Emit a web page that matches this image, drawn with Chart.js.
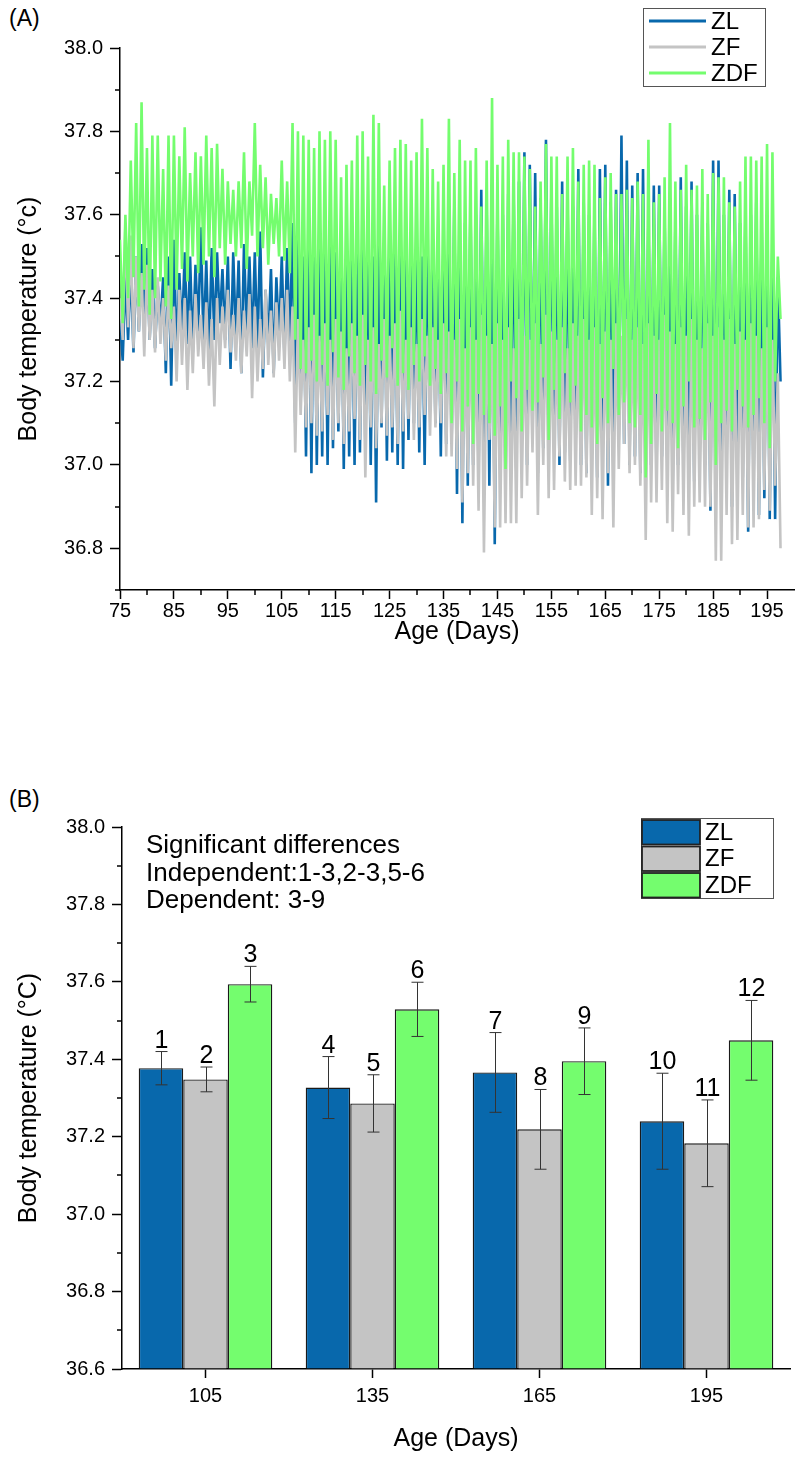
<!DOCTYPE html>
<html>
<head>
<meta charset="utf-8">
<script src="https://cdn.jsdelivr.net/npm/chart.js@4"></script>
<style>
body{margin:0;background:#fff;width:795px;height:1461px;position:relative;overflow:hidden;font-family:"Liberation Sans",Arial,sans-serif}
canvas{position:absolute;left:0}
#cA{top:0}
#cB{top:780px}
.tag{position:absolute;left:9px;font-size:23px;color:#000}
</style>
</head>
<body>
<div class="tag" style="top:5px">(A)</div>
<div class="tag" style="top:786px">(B)</div>
<canvas id="cA" width="795" height="680"></canvas>
<canvas id="cB" width="795" height="681"></canvas>
<script>
// ---------------- DATA (A) : daily high / low, days 75..197 ----------------

const firstDay = 75

const zlHigh = [
37.35,37.45,37.48,37.50,37.53,37.52,37.47,37.43,37.45,37.50,37.54,37.46,37.51,37.50,37.48,37.57,37.49,37.52,37.51,37.47,37.50,37.51,37.49,37.53,37.50,37.51,37.56,37.42,37.47,37.45,37.50,
37.52,37.58,37.55,37.50,37.56,37.59,37.52,37.55,37.57,37.51,37.53,37.54,37.49,37.56,37.52,37.58,37.50,37.55,37.53,37.57,37.51,37.60,37.54,37.52,37.56,37.50,37.55,37.53,37.48,37.55,
37.55,37.62,37.60,37.58,37.63,37.60,37.66,37.62,37.66,37.63,37.60,37.65,37.66,37.68,37.75,37.72,37.70,37.64,37.78,37.66,37.62,37.68,37.64,37.62,37.71,37.63,37.60,37.62,37.71,37.72,37.63,37.66,
37.79,37.73,37.67,37.70,37.71,37.60,37.67,37.67,37.60,37.64,37.58,37.69,37.62,37.68,37.60,37.63,37.58,37.73,37.73,37.60,37.66,37.65,37.58,37.62,37.60,37.63,37.58,37.60,37.55,37.45]
const zlLow = [
37.25,37.30,37.27,37.32,37.35,37.30,37.28,37.33,37.22,37.19,37.26,37.31,37.29,37.27,37.32,37.28,37.25,37.30,37.34,37.30,37.23,37.30,37.22,37.31,37.28,37.27,37.21,37.29,37.22,37.30,37.26,
37.28,37.10,37.15,37.02,36.98,37.00,37.02,37.00,37.04,37.08,36.99,37.02,37.00,37.03,37.05,37.00,36.91,37.09,37.01,37.03,37.00,36.99,37.06,37.10,37.03,37.00,37.17,37.10,37.02,37.05,
37.05,36.93,36.86,36.95,37.00,36.97,37.02,36.95,36.81,37.00,36.95,37.02,36.98,37.05,37.00,37.08,36.98,37.04,37.01,37.06,37.00,37.03,37.01,37.04,37.00,36.98,37.04,36.97,37.01,36.95,37.03,37.06,
37.05,37.00,37.02,36.98,37.03,37.00,36.97,37.02,37.01,36.95,37.00,36.98,37.03,36.96,37.01,37.00,36.89,36.98,37.02,37.00,36.90,37.00,36.97,36.84,36.95,36.88,36.92,36.87,36.87,37.20]

const zfHigh = [
37.40,37.58,37.55,37.50,37.46,37.48,37.42,37.45,37.40,37.43,37.38,37.42,37.40,37.37,37.41,37.36,37.39,37.35,37.40,37.38,37.42,37.36,37.40,37.37,37.41,37.38,37.35,37.42,37.37,37.39,37.40,
37.42,37.38,37.35,37.30,37.33,37.36,37.31,37.34,37.30,37.35,37.32,37.28,37.34,37.31,37.36,37.30,37.33,37.29,37.35,37.31,37.34,37.37,37.30,37.33,37.29,37.35,37.31,37.33,37.30,37.34,
37.32,37.30,37.35,37.28,37.33,37.30,37.36,37.31,37.29,37.34,37.30,37.33,37.28,37.35,37.31,37.30,37.34,37.29,37.36,37.32,37.30,37.33,37.28,37.34,37.31,37.35,37.30,37.33,37.29,37.32,37.30,37.34,
37.31,37.35,37.30,37.33,37.29,37.34,37.31,37.30,37.36,37.32,37.29,37.33,37.31,37.35,37.30,37.28,37.34,37.31,37.33,37.30,37.35,37.29,37.32,37.30,37.34,37.31,37.28,37.33,37.30,37.22]
const zfLow = [
37.30,37.33,37.28,37.32,37.26,37.30,37.27,37.29,37.25,37.28,37.20,37.24,37.18,37.22,37.26,37.23,37.19,37.14,37.24,37.28,37.27,37.25,37.22,37.26,37.16,37.20,37.23,37.24,37.21,37.25,37.23,
37.20,37.03,37.12,37.09,37.10,37.07,37.08,37.12,37.06,37.10,37.05,37.08,37.11,37.06,36.97,37.09,37.04,37.10,37.07,37.09,37.05,37.08,37.11,37.06,37.09,37.12,37.07,37.09,37.10,37.02,
37.02,36.99,36.91,36.98,36.95,36.89,36.79,37.06,36.85,36.85,36.86,36.86,36.86,36.92,36.95,37.03,36.88,37.00,36.92,36.94,37.02,36.96,36.94,36.95,36.95,36.97,36.88,36.92,36.87,36.98,36.85,36.99,
37.05,36.98,37.00,36.95,36.82,36.91,36.91,36.94,36.86,36.84,36.93,36.88,36.83,36.90,36.91,36.90,36.90,36.77,36.77,36.88,36.81,36.82,36.88,36.85,36.85,36.87,36.94,36.89,36.95,36.80]

const zdfHigh = [
37.54,37.60,37.73,37.82,37.87,37.76,37.79,37.79,37.71,37.79,37.79,37.74,37.81,37.70,37.75,37.74,37.79,37.76,37.77,37.71,37.68,37.66,37.68,37.75,37.68,37.82,37.72,37.69,37.65,37.64,37.73,
37.68,37.82,37.80,37.79,37.78,37.76,37.80,37.78,37.80,37.78,37.69,37.72,37.73,37.79,37.80,37.74,37.84,37.82,37.67,37.73,37.76,37.78,37.77,37.73,37.75,37.83,37.76,37.71,37.68,37.72,
37.83,37.70,37.78,37.73,37.73,37.76,37.62,37.73,37.88,37.72,37.74,37.78,37.75,37.75,37.74,37.71,37.62,37.68,37.77,37.74,37.74,37.65,37.74,37.76,37.68,37.72,37.73,37.72,37.64,37.69,37.70,37.65,
37.65,37.66,37.64,37.68,37.65,37.78,37.63,37.65,37.69,37.82,37.68,37.66,37.72,37.66,37.67,37.71,37.65,37.70,37.69,37.69,37.63,37.62,37.68,37.74,37.74,37.73,37.74,37.77,37.75,37.50]
const zdfLow = [
37.34,37.40,37.45,37.38,37.42,37.36,37.40,37.44,37.38,37.35,37.42,37.47,37.44,37.50,37.46,37.48,37.50,37.45,37.52,37.48,37.53,37.50,37.52,37.47,37.55,37.50,37.52,37.48,37.53,37.50,37.49,
37.46,37.30,37.23,37.22,37.25,37.20,37.24,37.19,37.27,37.21,37.18,37.26,37.22,37.19,37.24,37.20,37.17,37.25,37.21,37.28,37.19,37.22,37.18,37.24,37.20,37.26,37.19,37.23,37.17,37.22,
37.10,37.20,37.08,37.14,37.05,37.17,37.12,37.10,37.07,37.14,36.99,37.20,37.16,37.08,37.18,37.13,37.15,37.21,37.06,37.18,37.11,37.22,37.15,37.19,37.08,37.12,37.09,37.05,37.16,37.10,37.23,37.12,
37.15,37.10,37.09,37.12,36.97,37.05,37.17,37.08,37.13,37.10,37.04,37.14,37.20,37.09,37.11,37.06,37.15,37.00,37.10,37.13,37.08,37.18,37.14,37.09,37.12,37.16,37.10,37.04,37.20,37.35]

const xTicksA = [75,85,95,105,115,125,135,145,155,165,175,185,195]
const xMinorA = [80,90,100,110,120,130,140,150,160,170,180,190]
const yTicksA = [36.8,37.0,37.2,37.4,37.6,37.8,38.0]
const yMinorA = [36.7,36.9,37.1,37.3,37.5,37.7,37.9]

// ---------------- DATA (B) ----------------

const ageGroups = ["105","135","165","195"]
const zlMean = [37.377,37.327,37.366,37.240]
const zfMean = [37.348,37.286,37.219,37.183]
const zdfMean = [37.594,37.529,37.395,37.449]
const zlErr = [0.043,0.080,0.103,0.124]
const zfErr = [0.032,0.074,0.103,0.112]
const zdfErr = [0.046,0.070,0.086,0.103]
const zlNum = ["1","4","7","10"]
const zfNum = ["2","5","8","11"]
const zdfNum = ["3","6","9","12"]
const yTicksB = [36.6,36.8,37.0,37.2,37.4,37.6,37.8,38.0]
const yMinorB = [36.7,36.9,37.1,37.3,37.5,37.7,37.9]
const notes = ["Significant differences","Independent:1-3,2-3,5-6","Dependent: 3-9"]

// ---------------- STYLE ----------------

const BLUE = "#0868ac", GRAY = "#c4c4c4", GREEN = "#74fd6e"
const FONT = "'Liberation Sans', Arial, sans-serif"
Chart.defaults.font.family = FONT
Chart.defaults.color = "#000"

function zigzag(high, low){
let pts = []
high.forEach((h,i)=>{
pts.push({x:firstDay+i, y:h})
pts.push({x:firstDay+i+0.5, y:low[i]})
})
return pts
}

const minorTicks = {
id:"minorTicks",
afterDraw(chart, args, opts){
const ctx = chart.ctx, a = chart.chartArea
ctx.save()
ctx.strokeStyle = "#000"
ctx.lineWidth = 1.5
;(opts.x||[]).forEach(v=>{
const px = Math.round(chart.scales.x.getPixelForValue(v))
ctx.beginPath(); ctx.moveTo(px,a.bottom); ctx.lineTo(px,a.bottom+5); ctx.stroke()
})
;(opts.y||[]).forEach(v=>{
const py = Math.round(chart.scales.y.getPixelForValue(v))
ctx.beginPath(); ctx.moveTo(a.left-5,py); ctx.lineTo(a.left,py); ctx.stroke()
})
ctx.restore()
}
}

function axisStyle(len){
return {
grid:{display:true, drawOnChartArea:false, drawTicks:true, tickLength:len, tickColor:"#000", tickWidth:1.5},
border:{display:true, color:"#000", width:1.5}
}
}

// ---------------- GRAFICO A ----------------

const legendA = {
id:"legendA",
afterDraw(chart){
const ctx = chart.ctx
ctx.save()
ctx.strokeStyle = "#555"; ctx.lineWidth = 1
ctx.strokeRect(643.5,8.5,122,78)
const rows = [["ZL",BLUE],["ZF",GRAY],["ZDF",GREEN]]
ctx.font = "24px " + FONT
ctx.textBaseline = "middle"
rows.forEach((r,i)=>{
const y = 21 + i*26
ctx.strokeStyle = r[1]; ctx.lineWidth = 3
ctx.beginPath(); ctx.moveTo(649,y); ctx.lineTo(706,y); ctx.stroke()
ctx.fillStyle = "#000"
ctx.fillText(r[0],711,y+1)
})
ctx.restore()
}
}

new Chart(document.getElementById("cA"),{
type:"line",
data:{
datasets:[
{label:"ZL", data:zigzag(zlHigh,zlLow), borderColor:BLUE, borderWidth:2.6, pointRadius:0, order:3},
{label:"ZF", data:zigzag(zfHigh,zfLow), borderColor:GRAY, borderWidth:2.6, pointRadius:0, order:2},
{label:"ZDF", data:zigzag(zdfHigh,zdfLow), borderColor:GREEN, borderWidth:2.6, pointRadius:0, order:1}
]
},
options:{
responsive:false, animation:false, devicePixelRatio:1,
layout:{padding:{top:48,right:1,left:0,bottom:10}},
plugins:{legend:{display:false}, tooltip:{enabled:false}, minorTicks:{x:xMinorA, y:yMinorA}},
scales:{
x:{
type:"linear", min:75, max:200,
afterBuildTicks:s=>{ s.ticks = xTicksA.map(v=>({value:v})) },
afterFit:s=>{ s.height = 80 },
ticks:{font:{size:20}, padding:0, maxRotation:0, autoSkip:false, callback:v=>String(v)},
title:{display:true, text:"Age (Days)", font:{size:25}, padding:{top:0,bottom:23}},
...axisStyle(9)
},
y:{
min:36.7, max:38.0,
afterBuildTicks:s=>{ s.ticks = yTicksA.map(v=>({value:v})) },
afterFit:s=>{ s.width = 120 },
ticks:{font:{size:20}, padding:7, callback:v=>v.toFixed(1)},
title:{display:true, text:"Body temperature (°c)", font:{size:25}, padding:{top:14,bottom:0}},
...axisStyle(10)
}
}
},
plugins:[minorTicks, legendA]
})

// ---------------- GRAFICO B ----------------

const errs = [zlErr, zfErr, zdfErr]
const nums = [zlNum, zfNum, zdfNum]

const errorBars = {
id:"errorBars",
afterDatasetsDraw(chart){
const ctx = chart.ctx, y = chart.scales.y
ctx.save()
chart.data.datasets.forEach((ds,d)=>{
chart.getDatasetMeta(d).data.forEach((bar,i)=>{
const top = y.getPixelForValue(ds.data[i] + errs[d][i])
const bot = y.getPixelForValue(ds.data[i] - errs[d][i])
const x = Math.round(bar.x) + 0.5
ctx.strokeStyle = "#333"; ctx.lineWidth = 1
ctx.beginPath()
ctx.moveTo(x,top); ctx.lineTo(x,bot)
ctx.moveTo(x-6,top); ctx.lineTo(x+6,top)
ctx.moveTo(x-6,bot); ctx.lineTo(x+6,bot)
ctx.stroke()
ctx.fillStyle = "#000"
ctx.font = "25px " + FONT
ctx.textAlign = "center"; ctx.textBaseline = "alphabetic"
ctx.fillText(nums[d][i], x, top-4)
})
})
ctx.restore()
}
}

const legendB = {
id:"legendB",
afterDraw(chart){
const ctx = chart.ctx
ctx.save()
ctx.strokeStyle = "#555"; ctx.lineWidth = 1
ctx.strokeRect(641.5,38.5,132,80)
const rows = [["ZL",BLUE],["ZF",GRAY],["ZDF",GREEN]]
ctx.font = "24px " + FONT
ctx.textBaseline = "middle"
rows.forEach((r,i)=>{
const y = 39 + i*26.5
ctx.fillStyle = r[1]
ctx.fillRect(642,y+1,58,24.5)
ctx.strokeStyle = "#222"; ctx.lineWidth = 1.8
ctx.strokeRect(642,y+1,58,24.5)
ctx.fillStyle = "#000"
ctx.fillText(r[0],705,y+14)
})
// texto
ctx.font = "26px " + FONT
notes.forEach((t,i)=>{ ctx.fillText(t,146,66+i*27.5) })
ctx.restore()
}
}

const barStyle = {borderColor:"#1a1a1a", borderWidth:1.4, base:36.6, barPercentage:1, categoryPercentage:0.8}

new Chart(document.getElementById("cB"),{
type:"bar",
data:{
labels:ageGroups,
datasets:[
{label:"ZL", data:zlMean, backgroundColor:BLUE, ...barStyle},
{label:"ZF", data:zfMean, backgroundColor:GRAY, ...barStyle},
{label:"ZDF", data:zdfMean, backgroundColor:GREEN, ...barStyle}
]
},
options:{
responsive:false, animation:false, devicePixelRatio:1,
layout:{padding:{top:47,right:5,left:0,bottom:2}},
plugins:{legend:{display:false}, tooltip:{enabled:false}, minorTicks:{y:yMinorB}},
scales:{
x:{
afterFit:s=>{ s.height = 90 },
ticks:{font:{size:20}, padding:6},
title:{display:true, text:"Age (Days)", font:{size:25}, padding:{top:0,bottom:5}},
grid:{display:true, offset:false, drawOnChartArea:false, drawTicks:true, tickLength:9, tickColor:"#000", tickWidth:1.5},
border:{display:true, color:"#000", width:1.5}
},
y:{
min:36.6, max:38.0,
afterBuildTicks:s=>{ s.ticks = yTicksB.map(v=>({value:v})) },
afterFit:s=>{ s.width = 122 },
ticks:{font:{size:20}, padding:7, callback:v=>v.toFixed(1)},
title:{display:true, text:"Body temperature (°C)", font:{size:25}, padding:{top:14,bottom:0}},
...axisStyle(10)
}
}
},
plugins:[minorTicks, errorBars, legendB]
})
</script>
</body>
</html>
